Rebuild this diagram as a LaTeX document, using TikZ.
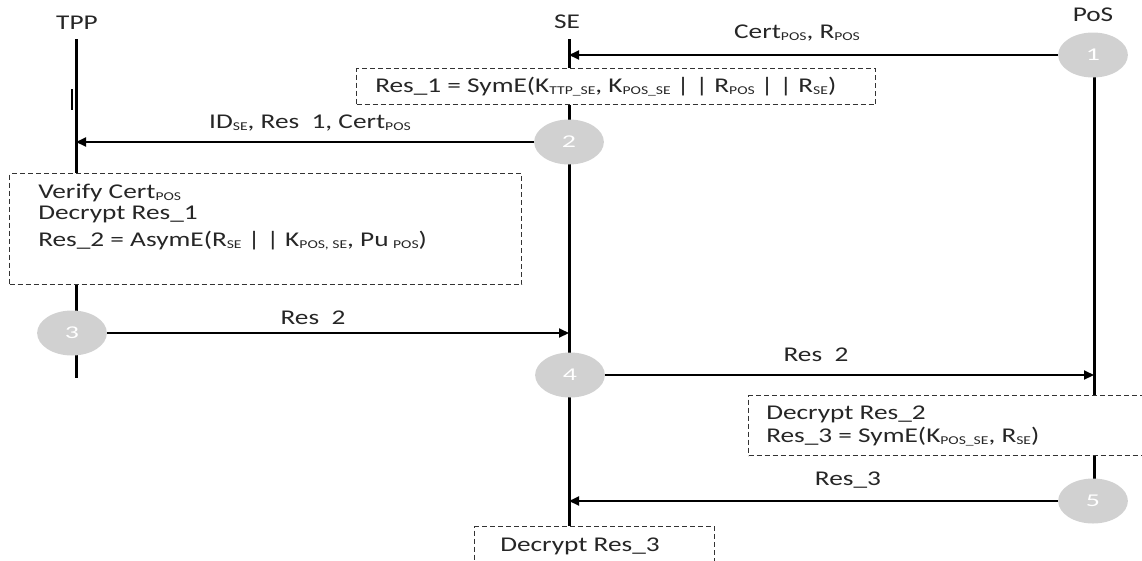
\documentclass[tikz,border=0pt]{standalone}
\usepackage{fontspec}
\setmainfont{Carlito}
\usetikzlibrary{arrows.meta}
\newcommand{\sbs}[1]{\raisebox{-0.2ex}{\fontsize{12}{12}\selectfont #1}}

\tikzset{
    txt/.style={font=\fontsize{21}{24}\selectfont, text=black!85, xscale=1.3, inner sep=0pt},
    stepnum/.style={circle, fill=black!18, text=white, minimum size=45pt, inner sep=0pt, font=\fontsize{18}{20}\selectfont, xscale=1.55},
    lifeline/.style={line width=3pt},
    msg/.style={line width=2pt, -{Triangle[length=10pt,width=9pt]}},
    dbox/.style={draw=black!80, line width=1.3pt, dash pattern=on 5pt off 3pt, anchor=north west, inner sep=0pt}
}

\begin{document}
\begin{tikzpicture}[x=1pt, y=-1pt]
    \useasboundingbox (0,0) rectangle (1142,560);

    % Participants
    \node[txt] (tpp) at (77,23) {TPP};
    \node[txt] (se) at (567,22) {SE};
    \node[txt] (pos) at (1093,15) {PoS};

    % Dashed boxes
    \node[dbox, minimum width=519, minimum height=36] (b1) at (356,68) {};
    \node[dbox, minimum width=512, minimum height=111] (b2) at (9,173) {};
    \node[dbox, minimum width=420, minimum height=60] (b3) at (748,395) {};
    \node[dbox, minimum width=240, minimum height=60] (b4) at (474,526) {};

    % Lifelines
    \coordinate (tppA) at (76,39);
    \coordinate (tppB) at (76,378);
    \coordinate (seA) at (569,39);
    \coordinate (posA) at (1094,60);
    \coordinate (posB) at (1094,490);
    \coordinate (tick) at (72,89);
    \draw[lifeline] (tppA) -- (tppA |- b2.north);
    \draw[lifeline] (tppA |- b2.south) -- (tppB);
    \draw[lifeline] (seA) -- (seA |- b1.north);
    \draw[lifeline] (seA |- b1.south) -- (seA |- b4.north);
    \draw[lifeline] (posA) -- (posA |- b3.north);
    \draw[lifeline] (posA |- b3.south) -- (posB);
    \draw[line width=1.2pt] (tick) -- ++(0,21);

    % Steps
    \node[stepnum] (s1) at (1093,55) {1};
    \node[stepnum] (s2) at (569,142) {2};
    \node[stepnum] (s3) at (72,333) {3};
    \node[stepnum] (s4) at (570,375) {4};
    \node[stepnum] (s5) at (1093,501) {5};

    % Messages
    \draw[msg] (s1.west) -- (s1.west -| seA);
    \draw[msg] (s2.west) -- (s2.west -| tppA);
    \draw[msg] (s3.east) -- (s3.east -| seA);
    \draw[msg] (s4.east) -- (s4.east -| posA);
    \draw[msg] (s5.west) -- (s5.west -| seA);

    \node[txt] (m1) at (797,33) {Cert\sbs{POS}, R\sbs{POS}};
    \node[txt] (m2) at (310,123) {ID\sbs{SE}, Res\ \ 1, Cert\sbs{POS}};
    \node[txt] (m3) at (313,318) {Res\ \ 2};
    \node[txt] (m4) at (816,355) {Res\ \ 2};
    \node[txt] (m5) at (848,480) {Res\_3};

    % Box texts
    \node[txt, anchor=west] (t1) at (375,87) {Res\_1 = SymE(K\sbs{TTP\_SE}, K\sbs{POS\_SE} | | R\sbs{POS} | | R\sbs{SE})};
    \node[txt, anchor=west] (t2a) at (38,193) {Verify Cert\sbs{POS}};
    \node[txt, anchor=west] (t2b) at (38,214) {Decrypt Res\_1};
    \node[txt, anchor=west] (t2c) at (38,241) {Res\_2 = AsymE(R\sbs{SE} | | K\sbs{POS, SE}, Pu\,\sbs{POS})};
    \node[txt, anchor=west] (t3a) at (766,414) {Decrypt Res\_2};
    \node[txt, anchor=west] (t3b) at (766,437) {Res\_3 = SymE(K\sbs{POS\_SE}, R\sbs{SE})};
    \node[txt, anchor=west] (t4) at (500,546) {Decrypt Res\_3};
\end{tikzpicture}
\end{document}
